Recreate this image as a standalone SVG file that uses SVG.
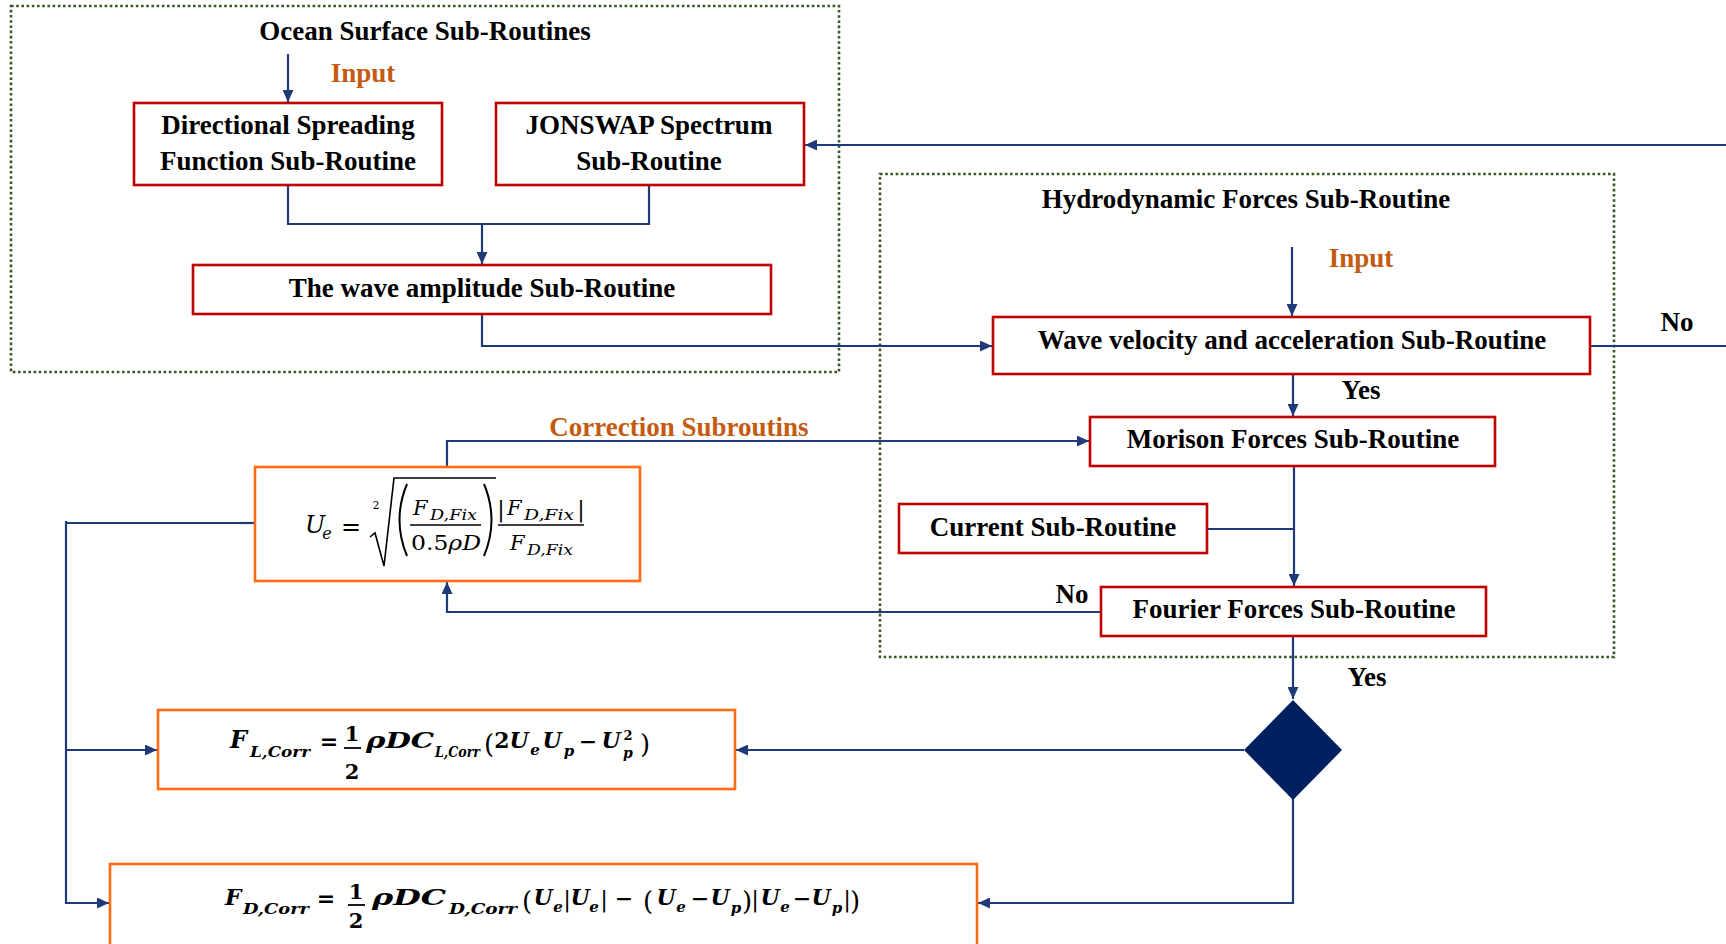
<svg xmlns="http://www.w3.org/2000/svg" width="1726" height="944" viewBox="0 0 1726 944">
  <style>
    .lbl { font-family: "Liberation Serif", "Times New Roman", serif; font-weight: bold; font-size: 27px; fill: #000; text-anchor: middle; }
    .org { fill: #C55A11; }
    .red { fill: #fff; stroke: #C00000; stroke-width: 2.6; }
    .eqbox { fill: #fff; stroke: #FF6A13; stroke-width: 2.6; }
    .group { fill: none; stroke: #385723; stroke-width: 2.6; stroke-dasharray: 2.6 2.6; }
    .con { fill: none; stroke: #1F3A78; stroke-width: 2.2; }
    .m { font-family: "DejaVu Serif", "Liberation Serif", serif; font-style: italic; fill: #000; }
    .mb { font-weight: bold; }
    .up { font-style: normal; }
    .c { text-anchor: middle; }
  </style>
  <defs>
    <marker id="arr" markerUnits="userSpaceOnUse" markerWidth="12" markerHeight="11" refX="12" refY="5.5" orient="auto">
      <path d="M0,0 L12,5.5 L0,11 z" fill="#1F3A78"/>
    </marker>
  </defs>

  <rect width="1726" height="944" fill="#fff"/>

  <!-- grouping frames -->
  <g id="ocean-surface-group">
    <rect class="group" x="11" y="6" width="828" height="366"/>
    <text class="lbl" x="425" y="40">Ocean Surface Sub-Routines</text>
    <text class="lbl org" x="363" y="82">Input</text>
  </g>
  <g id="hydrodynamic-group">
    <rect class="group" x="880" y="174" width="734" height="483"/>
    <text class="lbl" x="1246" y="208">Hydrodynamic Forces Sub-Routine</text>
    <text class="lbl org" x="1361" y="267">Input</text>
  </g>

  <!-- connectors -->
  <g id="connectors">
    <path class="con" d="M288,54 V102" marker-end="url(#arr)"/>
    <path class="con" d="M288,185 V224 H649 V185"/>
    <path class="con" d="M482,224 V264" marker-end="url(#arr)"/>
    <path class="con" d="M482,314 V346 H992" marker-end="url(#arr)"/>
    <path class="con" d="M1590,346 H1730"/>
    <path class="con" d="M1730,145 H805" marker-end="url(#arr)"/>
    <path class="con" d="M1292,247 V316" marker-end="url(#arr)"/>
    <path class="con" d="M1293,374 V416" marker-end="url(#arr)"/>
    <path class="con" d="M1294,466 V586" marker-end="url(#arr)"/>
    <path class="con" d="M1207,529 H1294"/>
    <path class="con" d="M1101,612 H447 V582" marker-end="url(#arr)"/>
    <path class="con" d="M447,467 V441 H1089" marker-end="url(#arr)"/>
    <path class="con" d="M1293,636 V699" marker-end="url(#arr)"/>
    <path class="con" d="M1244,750 H736" marker-end="url(#arr)"/>
    <path class="con" d="M1293,799 V903 H978" marker-end="url(#arr)"/>
    <path class="con" d="M245,523 H65" stroke-width="4"/>
    <path class="con" d="M255,523 H240"/>
    <path class="con" d="M66,521 V903 H109" stroke-width="2.6" marker-end="url(#arr)"/>
    <path class="con" d="M66,750 H157" marker-end="url(#arr)"/>
    <text class="lbl" x="1677" y="331">No</text>
    <text class="lbl" x="1361" y="399">Yes</text>
    <text class="lbl" x="1072" y="603">No</text>
    <text class="lbl" x="1367" y="686">Yes</text>
    <text class="lbl org" x="679" y="436">Correction Subroutins</text>
  </g>

  <!-- ocean surface nodes -->
  <g id="directional-spreading">
    <rect class="red" x="134" y="103" width="308" height="82"/>
    <text class="lbl" x="288" y="134">Directional Spreading</text>
    <text class="lbl" x="288" y="170">Function Sub-Routine</text>
  </g>
  <g id="jonswap-spectrum">
    <rect class="red" x="496" y="103" width="308" height="82"/>
    <text class="lbl" x="649" y="134">JONSWAP Spectrum</text>
    <text class="lbl" x="649" y="170">Sub-Routine</text>
  </g>
  <g id="wave-amplitude">
    <rect class="red" x="193" y="265" width="578" height="49"/>
    <text class="lbl" x="482" y="297">The wave amplitude Sub-Routine</text>
  </g>

  <!-- hydrodynamic nodes -->
  <g id="wave-kinematics">
    <rect class="red" x="993" y="317" width="597" height="57"/>
    <text class="lbl" x="1292" y="349">Wave velocity and acceleration Sub-Routine</text>
  </g>
  <g id="morison-forces">
    <rect class="red" x="1090" y="417" width="405" height="49"/>
    <text class="lbl" x="1293" y="448">Morison Forces Sub-Routine</text>
  </g>
  <g id="current">
    <rect class="red" x="899" y="504" width="308" height="49"/>
    <text class="lbl" x="1053" y="536">Current Sub-Routine</text>
  </g>
  <g id="fourier-forces">
    <rect class="red" x="1101" y="587" width="385" height="49"/>
    <text class="lbl" x="1294" y="618">Fourier Forces Sub-Routine</text>
  </g>
  <g id="decision">
    <path d="M1293,700 L1342,750 L1293,800 L1244,750 z" fill="#002060"/>
  </g>

  <!-- equivalent velocity -->
  <g id="equivalent-velocity">
    <rect class="eqbox" x="255" y="467" width="385" height="114"/>
    <text class="m" x="305" y="533" font-size="24">U</text>
    <text class="m" x="327" y="539" font-size="16" text-anchor="middle">e</text>
    <text class="m up c" x="351" y="535" font-size="24">=</text>
    <text class="m up c" x="376" y="509" font-size="11">2</text>
    <path d="M370,537 L375,533 L384,566 L394,478 H496" fill="none" stroke="#000" stroke-width="1.6"/>
    <path d="M407,484 Q392,520 407,556" fill="none" stroke="#000" stroke-width="2"/>
    <path d="M484,484 Q499,520 484,556" fill="none" stroke="#000" stroke-width="2"/>
    <text class="m" x="413" y="515" font-size="21">F</text>
    <text class="m" x="430" y="520" font-size="14" textLength="47" lengthAdjust="spacingAndGlyphs">D,Fix</text>
    <line x1="410" y1="525" x2="481" y2="525" stroke="#000" stroke-width="1.4"/>
    <text class="m" x="411" y="550" font-size="21" textLength="70" lengthAdjust="spacingAndGlyphs"><tspan class="up">0.5</tspan>ρD</text>
    <text class="m up c" x="501" y="517" font-size="22">|</text>
    <text class="m" x="507" y="515" font-size="21">F</text>
    <text class="m" x="524" y="520" font-size="14" textLength="50" lengthAdjust="spacingAndGlyphs">D,Fix</text>
    <text class="m up c" x="581" y="517" font-size="22">|</text>
    <line x1="498" y1="525" x2="584" y2="525" stroke="#000" stroke-width="1.4"/>
    <text class="m" x="510" y="550" font-size="21">F</text>
    <text class="m" x="527" y="555" font-size="14" textLength="46" lengthAdjust="spacingAndGlyphs">D,Fix</text>
  </g>

  <!-- corrected lift force -->
  <g id="lift-force">
    <rect class="eqbox" x="158" y="710" width="577" height="79"/>
    <g class="m mb">
      <text x="230" y="748" font-size="24">F</text>
      <text x="250" y="757" font-size="15" textLength="60" lengthAdjust="spacingAndGlyphs">L,Corr</text>
      <text class="up c" x="329" y="749" font-size="22">=</text>
      <text class="up c" x="352" y="741" font-size="21">1</text>
      <line x1="344" y1="748" x2="361" y2="748" stroke="#000" stroke-width="1.8"/>
      <text class="up c" x="352" y="779" font-size="21">2</text>
      <text x="366" y="748" font-size="22" textLength="68" lengthAdjust="spacingAndGlyphs">ρDC</text>
      <text x="435" y="757" font-size="14" textLength="45" lengthAdjust="spacingAndGlyphs">L,Corr</text>
      <text class="up c" x="489" y="753" font-size="26" font-weight="normal">(</text>
      <text class="up c" x="502" y="748" font-size="22">2</text>
      <text class="c" x="519" y="748" font-size="22">U</text>
      <text class="c" x="535" y="755" font-size="15">e</text>
      <text class="c" x="552" y="748" font-size="22">U</text>
      <text class="c" x="569" y="756" font-size="15">p</text>
      <text class="up c" x="588" y="749" font-size="22">−</text>
      <text class="c" x="611" y="748" font-size="22">U</text>
      <text class="up c" x="628" y="740" font-size="13">2</text>
      <text class="c" x="628" y="758" font-size="14">p</text>
      <text class="up c" x="645" y="753" font-size="26" font-weight="normal">)</text>
    </g>
  </g>

  <!-- corrected drag force -->
  <g id="drag-force">
    <rect class="eqbox" x="110" y="864" width="867" height="90"/>
    <g class="m mb">
      <text x="225" y="905" font-size="23">F</text>
      <text x="243" y="914" font-size="15" textLength="66" lengthAdjust="spacingAndGlyphs">D,Corr</text>
      <text class="up c" x="326" y="906" font-size="22">=</text>
      <text class="up c" x="356" y="899" font-size="21">1</text>
      <line x1="348" y1="905" x2="365" y2="905" stroke="#000" stroke-width="1.8"/>
      <text class="up c" x="356" y="928" font-size="21">2</text>
      <text x="372" y="905" font-size="22" textLength="74" lengthAdjust="spacingAndGlyphs">ρDC</text>
      <text x="449" y="914" font-size="14" textLength="68" lengthAdjust="spacingAndGlyphs">D,Corr</text>
      <text class="up c" x="527" y="910" font-size="26" font-weight="normal">(</text>
      <text class="c" x="543" y="905" font-size="22">U</text>
      <text class="c" x="558" y="912" font-size="15">e</text>
      <text class="up c" x="567" y="907" font-size="23" font-weight="normal">|</text>
      <text class="c" x="580" y="905" font-size="22">U</text>
      <text class="c" x="594" y="912" font-size="15">e</text>
      <text class="up c" x="604" y="907" font-size="23" font-weight="normal">|</text>
      <text class="up c" x="624" y="906" font-size="22">−</text>
      <text class="up c" x="648" y="910" font-size="26" font-weight="normal">(</text>
      <text class="c" x="666" y="905" font-size="22">U</text>
      <text class="c" x="681" y="912" font-size="15">e</text>
      <text class="up c" x="700" y="906" font-size="22">−</text>
      <text class="c" x="720" y="905" font-size="22">U</text>
      <text class="c" x="736" y="913" font-size="15">p</text>
      <text class="up c" x="747" y="910" font-size="26" font-weight="normal">)</text>
      <text class="up c" x="755" y="907" font-size="23" font-weight="normal">|</text>
      <text class="c" x="770" y="905" font-size="22">U</text>
      <text class="c" x="785" y="912" font-size="15">e</text>
      <text class="up c" x="802" y="906" font-size="22">−</text>
      <text class="c" x="821" y="905" font-size="22">U</text>
      <text class="c" x="837" y="913" font-size="15">p</text>
      <text class="up c" x="847" y="907" font-size="23" font-weight="normal">|</text>
      <text class="up c" x="855" y="910" font-size="26" font-weight="normal">)</text>
    </g>
  </g>
</svg>
